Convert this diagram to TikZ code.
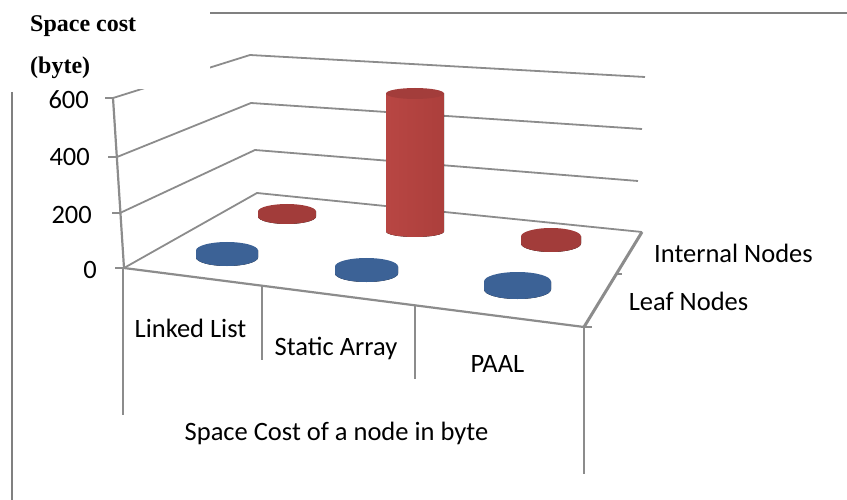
\documentclass[tikz,border=0pt]{standalone}
\usepackage{fontspec}
\setmainfont{Carlito}
\newfontfamily\titlefont{Liberation Serif}

\definecolor{gridgray}{RGB}{140,140,140}
\definecolor{framegray}{RGB}{128,128,128}
\definecolor{blueTop}{RGB}{60,98,150}
\definecolor{blueSide}{RGB}{74,136,206}
\definecolor{blueSideDark}{RGB}{58,110,175}
\definecolor{redTop}{RGB}{162,60,58}
\definecolor{redSide}{RGB}{210,86,82}
\definecolor{redSideDark}{RGB}{180,66,63}
\definecolor{cylLeft}{RGB}{184,70,67}
\definecolor{cylMid}{RGB}{216,96,92}
\definecolor{cylRight}{RGB}{172,63,60}
\definecolor{cylTop}{RGB}{163,61,59}

% flat disk: cx, cy (top ellipse centre), rx, ry, thickness, side colour, top colour
\newcommand\chartdisk[7]{%
  \fill[left color=#7, middle color=#6, right color=#7]
    ({#1-#3},{#2}) -- ({#1-#3},{#2+#5})
    arc[start angle=180, end angle=360, x radius=#3pt, y radius=#4pt]
    -- ({#1+#3},{#2}) -- cycle;
  \fill[#7] (#1,#2) ellipse[x radius=#3pt, y radius=#4pt];
}

\begin{document}
\begin{tikzpicture}[x=1pt,y=-1pt,
  gridline/.style={draw=gridgray, line width=1.8pt},
  axisline/.style={draw=gridgray, line width=2.2pt},
  framel/.style={draw=framegray, line width=1.8pt},
  lbl/.style={font=\fontsize{26.5}{30}\selectfont, inner sep=0pt},
  ttl/.style={font=\titlefont\bfseries\fontsize{24}{28}\selectfont, inner sep=0pt}]
\useasboundingbox (0,0) rectangle (847,500);

% value axis points (front) and wall corners
\coordinate (y600) at (113,98);
\coordinate (y400) at (117,157);
\coordinate (y200) at (120,213);
\coordinate (y0)   at (124,268);
\coordinate (b600) at (250,55);
\coordinate (b400) at (251,103);
\coordinate (b200) at (255,150);
\coordinate (b0)   at (257,193);
\coordinate (r600) at (645,77);
\coordinate (r400) at (642,129);
\coordinate (r200) at (638,181);
\coordinate (r0)   at (642,232);
\coordinate (fr)   at (584,327);

% gridlines on side and back walls
\draw[gridline] (y600) -- (b600) -- (r600);
\draw[gridline] (y400) -- (b400) -- (r400);
\draw[gridline] (y200) -- (b200) -- (r200);
\draw[gridline] (y0) -- (b0) -- (r0);

% value axis with ticks
\draw[axisline] (y600) -- (y0);
\draw[axisline] (y600) -- ++(-8,0);
\draw[axisline] (y400) -- ++(-9,0);
\draw[axisline] (y200) -- ++(-8,0);
\draw[axisline] (y0) -- ++(-9,0);

% floor front edge, depth axis and category dividers
\draw[axisline] (y0) -- (fr);
\draw[draw=gridgray, line width=3pt] (fr) -- (r0);
\draw[axisline] (fr) -- ++(8,0);
\draw[axisline] (616,274) -- ++(6,0);
\draw[axisline] (123,268) -- (123,415);
\draw[axisline] (262,286) -- (262,360);
\draw[axisline] (415,305) -- (415,379);
\draw[axisline] (fr) -- (584,474);

% series: internal nodes (red) and leaf nodes (blue)
\chartdisk{287}{211.5}{29}{7.5}{5}{redSide}{redTop}
\chartdisk{551}{236.5}{30}{8.5}{7}{redSide}{redTop}

% tall cylinder for the static array internal node
\fill[left color=cylLeft, middle color=cylMid, right color=cylRight]
  (386,93.5) -- (386,231.5)
  arc[start angle=180, end angle=360, x radius=29pt, y radius=5.5pt]
  -- (444,93.5) -- cycle;
\fill[cylTop] (415,93.5) ellipse[x radius=29pt, y radius=5.5pt];

\chartdisk{227}{250.5}{31}{8.5}{7}{blueSide}{blueTop}
\chartdisk{366.5}{266.5}{31.5}{8.5}{7}{blueSide}{blueTop}
\chartdisk{517.5}{281.5}{33.5}{9.5}{8}{blueSide}{blueTop}

% chart title area
\fill[white] (0,0) rectangle (210,89);
\draw[framel] (210,13) -- (847,13);
\draw[framel] (12,92) -- (12,500);
\node[ttl, anchor=base west] (t1) at (30,32) {Space cost};
\node[ttl, anchor=base west] (t2) at (30,74) {(byte)};

% value labels
\node[lbl, anchor=east] (v600) at (89,100) {600};
\node[lbl, anchor=east] (v400) at (90,157) {400};
\node[lbl, anchor=east] (v200) at (92,215) {200};
\node[lbl, anchor=east] (v0)   at (97,270) {0};

% category and series labels
\node[lbl, anchor=base] (c1) at (190.5,337) {Linked List};
\node[lbl, anchor=base] (c2) at (336,355) {Static Array};
\node[lbl, anchor=base] (c3) at (497.5,372) {PAAL};
\node[lbl, anchor=base] (xt) at (336.5,440) {Space Cost of a node in byte};
\node[lbl, anchor=base] (s1) at (733.5,262) {Internal Nodes};
\node[lbl, anchor=base] (s2) at (688.5,310) {Leaf Nodes};
\end{tikzpicture}
\end{document}
